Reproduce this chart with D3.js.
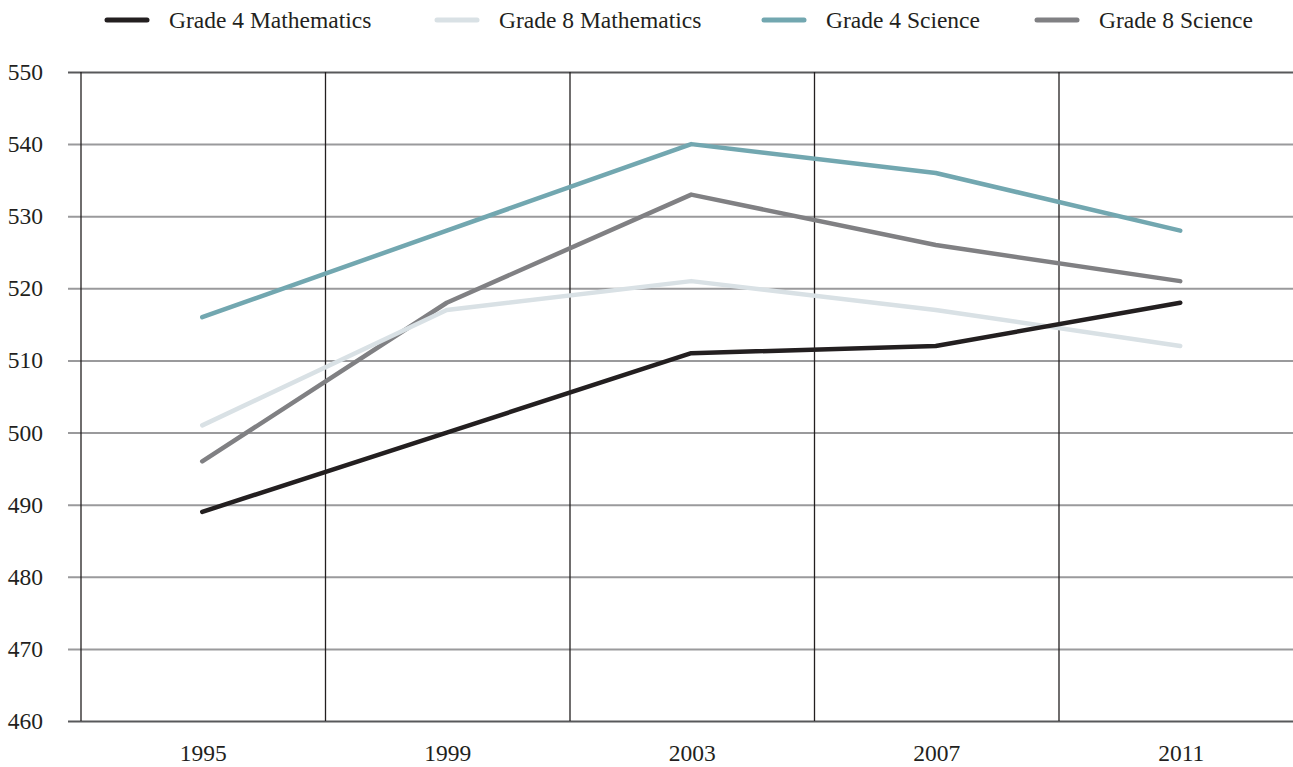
<!DOCTYPE html>
<html>
<head>
<meta charset="utf-8">
<script src="https://cdn.jsdelivr.net/npm/d3@7"></script>
<style>
  body { margin: 0; background: #fff; }
</style>
</head>
<body>
<div id="chart"></div>
<script>
var years = ["1995", "1999", "2003", "2007", "2011"];
var yTicks = [460, 470, 480, 490, 500, 510, 520, 530, 540, 550];

var seriesNames = ["Grade 4 Mathematics", "Grade 8 Mathematics", "Grade 4 Science", "Grade 8 Science"];
var grade4Math = [489, 500, 511, 512, 518];
var grade8Math = [501, 517, 521, 517, 512];
var grade4Sci = [516, 528, 540, 536, 528];
var grade8Sci = [496, 518, 533, 526, 521];
var colors = ["#231f20", "#d9e1e5", "#72a7b0", "#808083"];

var serif = "'Liberation Serif', 'Times New Roman', 'DejaVu Serif', Times, serif";
var fontSize = "23.5px";

var svgWidth = 1293;
var svgHeight = 767;
var margin = { top: 72, left: 81, bottom: 46 };
var plotBottom = svgHeight - margin.bottom;

var svg = d3.select("#chart")
  .append("svg")
  .attr("width", svgWidth)
  .attr("height", svgHeight);

var x = d3.scaleBand()
  .domain(years)
  .range([margin.left, margin.left + 5 * 244.5]);

var y = d3.scaleLinear()
  .domain([460, 550])
  .range([plotBottom, margin.top]);

// horizontal gridlines with ticks poking out to the left
var leftAxis = d3.axisLeft(y)
  .tickValues(yTicks)
  .tickSize(-(svgWidth - margin.left))
  .tickPadding(38)
  .tickFormat(d3.format("d"));

var yAxis = svg.append("g")
  .attr("transform", `translate(${margin.left}, 0)`)
  .call(leftAxis);

yAxis.select(".domain").remove();
yAxis.selectAll(".tick line")
  .attr("x1", -13)
  .attr("stroke", d => (d === 550 || d === 460) ? "#58595b" : "#9a9a9c")
  .attr("stroke-width", 2);
yAxis.selectAll(".tick text")
  .style("font-family", serif)
  .style("font-size", fontSize)
  .attr("fill", "#231f20");

// vertical separators between the years
var bounds = [margin.left].concat(years.slice(0, 4).map(d => x(d) + x.bandwidth()));
svg.append("g")
  .selectAll("line")
  .data(bounds)
  .enter()
  .append("line")
  .attr("x1", d => d)
  .attr("x2", d => d)
  .attr("y1", margin.top)
  .attr("y2", plotBottom)
  .attr("stroke", "#231f20")
  .attr("stroke-width", 1.3);

// year labels
var bottomAxis = d3.axisBottom(x).tickSize(0).tickPadding(23);
var xAxis = svg.append("g")
  .attr("transform", `translate(0, ${plotBottom})`)
  .call(bottomAxis);
xAxis.select(".domain").remove();
xAxis.selectAll(".tick text")
  .style("font-family", serif)
  .style("font-size", fontSize)
  .attr("fill", "#231f20");

// lines
var allSeries = [grade4Math, grade8Math, grade4Sci, grade8Sci];
var line = d3.line()
  .x((d, i) => x(years[i]) + x.bandwidth() / 2 - 1)
  .y(d => y(d));

var drawOrder = [2, 3, 1, 0];
svg.append("g")
  .selectAll("path")
  .data(drawOrder)
  .enter()
  .append("path")
  .attr("d", i => line(allSeries[i]))
  .attr("fill", "none")
  .attr("stroke", i => colors[i])
  .attr("stroke-width", 4.5)
  .attr("stroke-linecap", "round")
  .attr("stroke-linejoin", "round");

// legend
var legendX = [107, 437, 764, 1037];
var legend = svg.append("g");
var items = legend.selectAll("g")
  .data(seriesNames)
  .enter()
  .append("g")
  .attr("transform", (d, i) => `translate(${legendX[i]}, 20)`);

items.append("line")
  .attr("x1", 0)
  .attr("x2", 40)
  .attr("stroke", (d, i) => colors[i])
  .attr("stroke-width", 5)
  .attr("stroke-linecap", "round");

items.append("text")
  .attr("x", 62)
  .attr("dy", "0.35em")
  .style("font-family", serif)
  .style("font-size", fontSize)
  .attr("fill", "#231f20")
  .text(d => d);
</script>
</body>
</html>
